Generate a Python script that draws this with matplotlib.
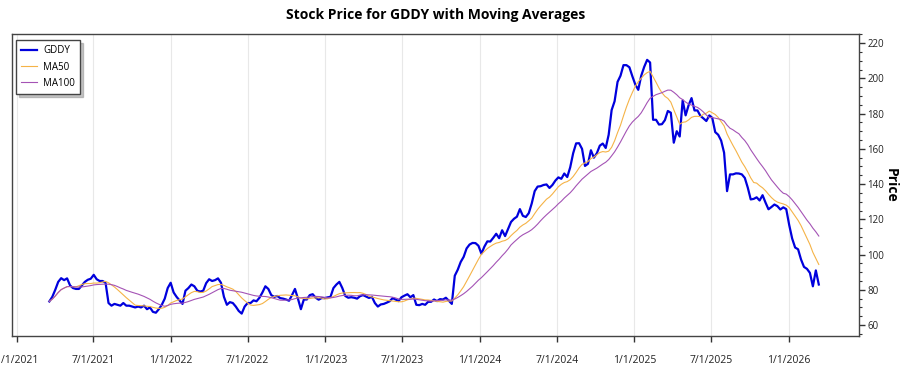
import matplotlib
matplotlib.use("Agg")
import matplotlib.pyplot as plt
import numpy as np
import pandas as pd

# ---- data (weekly closes) ----
start_date = "2021-03-19"
prices = [
    73.4, 76, 80, 84.5, 86.6, 85.5, 86.5, 82.5, 81, 80.5,
    80.5, 82.5, 84.5, 85.7, 86.3, 88.5, 86, 85, 85, 84,
    72.5, 71, 72, 71.5, 71, 72.5, 71, 71, 70.5, 70,
    70.5, 70, 71, 69, 70, 67.5, 67, 69, 71.5, 75,
    81, 84, 78.5, 76, 74, 72, 79.5, 81, 83, 82,
    79.5, 79, 79.5, 83.8, 86, 85, 85.5, 86.5, 84, 76,
    71.5, 73, 72.5, 70.5, 68, 66.5, 70.5, 72.5, 72.5, 74,
    73.5, 75.5, 78.5, 82, 80.5, 77, 76, 76.5, 75.3, 75,
    74.5, 73.8, 77, 80.5, 75, 69, 74.5, 74.5, 77, 77.5,
    75.5, 74.4, 75.3, 75.3, 75.7, 76, 81, 83, 84.5, 81,
    76.5, 75.5, 75.8, 75.5, 75, 76.4, 77, 76.2, 75.4, 76,
    72.5, 70.5, 71.7, 72, 72.7, 73.5, 75.3, 74.5, 73.6, 75.8,
    76.7, 77.5, 75.8, 77, 71.5, 71.3, 72, 71.5, 73.2, 73.2,
    74.5, 73.6, 74.7, 74.5, 75.5, 73.8, 72, 88, 91.4, 95.8,
    98.7, 103.5, 105.7, 106.6, 106.5, 105, 100.5, 104.5, 107.5, 107.4,
    109.5, 111.8, 109.3, 113.8, 110.5, 114.5, 118.5, 120.3, 121.5, 125.8,
    122, 121.3, 123.5, 129, 136, 138.6, 138.8, 139.5, 139.8, 137.8,
    139.5, 142, 143.8, 143, 146, 144, 149.5, 157.5, 163.1, 163.2,
    160, 150.3, 151.5, 159.2, 155, 157.5, 161.8, 163, 160.5, 168,
    182, 187, 198, 201.5, 207.5, 207.5, 206.3, 201.2, 196.5, 193.5,
    201.5, 206.5, 210.5, 209, 176.5, 176.5, 173.8, 174, 176.3, 181.5,
    180.5, 163.5, 170, 167, 187.5, 179, 184.7, 188.8, 181.8, 181.8,
    178.7, 177.3, 175.8, 179, 177.6, 169.5, 168, 164.7, 157.8, 136,
    145.5, 145.5, 146.1, 146, 145.5, 143.5, 138, 131.3, 131.6, 132.5,
    130.7, 133.7, 129.5, 125.7, 127, 128.4, 127.5, 125.6, 126.8, 125.8,
    116.8, 109.1, 104, 103, 97.2, 93, 91.9, 89.6, 82, 91,
    83,
]
ticker = "GDDY"
ma_labels = ["MA50", "MA100"]
ma_windows_weeks = [10, 20]   # 50 and 100 trading days in weekly samples
y_ticks = [60, 80, 100, 120, 140, 160, 180, 200, 220]
x_tick_dates = ["2021-01-01", "2021-07-01", "2022-01-01", "2022-07-01",
                "2023-01-01", "2023-07-01", "2024-01-01", "2024-07-01",
                "2025-01-01", "2025-07-01", "2026-01-01"]

dates = pd.date_range(start_date, periods=len(prices), freq="7D")
s = pd.Series(prices, index=dates)
ma50 = s.rolling(ma_windows_weeks[0], min_periods=1).mean()
ma100 = s.rolling(ma_windows_weeks[1], min_periods=1).mean()

plt.rcParams["font.family"] = ["Open Sans", "DejaVu Sans"]

fig = plt.figure(figsize=(9, 3.75), dpi=100)
ax = fig.add_axes([0.013, 0.105, 0.9414, 0.8035])

ax.plot(s.index, s.values, color="#0000DD", lw=1.6, label=ticker, zorder=3)
ax.plot(ma50.index, ma50.values, color="#F5B347", lw=0.8, label=ma_labels[0], zorder=4)
ax.plot(ma100.index, ma100.values, color="#A453B5", lw=0.8, label=ma_labels[1], zorder=4)

ax.set_ylim(54, 225)
ax.set_xlim(pd.Timestamp("2020-12-20"), pd.Timestamp("2026-06-16"))

ax.yaxis.tick_right()
ax.yaxis.set_label_position("right")
ax.set_yticks(y_ticks)
ax.yaxis.set_minor_locator(matplotlib.ticker.MultipleLocator(5))
ax.set_ylabel("Price", fontsize=10, fontweight="bold", rotation=270,
              va="center", ha="center")
ax.yaxis.set_label_coords(1.037, 0.5)

xt = [pd.Timestamp(d) for d in x_tick_dates]
ax.set_xticks(xt)
ax.set_xticklabels([f"{d.month}/{d.day}/{d.year}" for d in xt])
ax.grid(axis="x", color="#E8E8E8", lw=0.8)
ax.set_axisbelow(True)

ax.tick_params(axis="x", direction="out", length=4, width=1, pad=10,
               labelsize=7.5, colors="#333333", labelcolor="#222222")
ax.tick_params(axis="y", which="major", direction="out", length=4, width=1,
               pad=2, labelsize=7, colors="#333333", labelcolor="#222222")
ax.tick_params(axis="y", which="minor", direction="out", length=2, width=0.8,
               colors="#333333")
for sp in ax.spines.values():
    sp.set_color("#444444")
    sp.set_linewidth(1)

ax.set_title("Stock Price for GDDY with Moving Averages", fontsize=10,
             fontweight="bold", pad=11)

leg = ax.legend(loc="upper left", fontsize=7, frameon=True, fancybox=False,
                shadow={"color": "0.55", "alpha": 0.5}, borderpad=0.5,
                handlelength=1.7, handletextpad=0.6, labelspacing=0.55,
                borderaxespad=0, bbox_to_anchor=(0.005, 0.98))
leg.get_frame().set_edgecolor("#444444")
leg.get_frame().set_linewidth(1)
leg.get_frame().set_alpha(1)

fig.savefig("out.png", dpi=100)
